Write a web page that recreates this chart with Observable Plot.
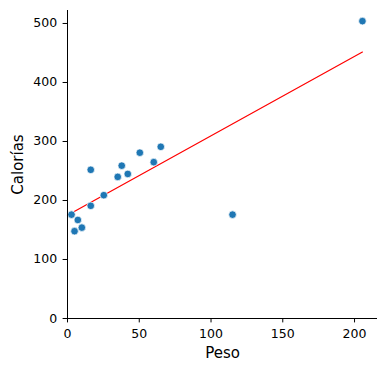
<!DOCTYPE html>
<html>
<head>
<meta charset="utf-8">
<script src="https://cdn.jsdelivr.net/npm/d3@7"></script>
<script src="https://cdn.jsdelivr.net/npm/@observablehq/plot@0.6"></script>
<style>
  html, body { margin: 0; padding: 0; background: #fff; }
  svg { display: block; }
</style>
</head>
<body>
<div id="chart"></div>
<script>
const peso =     [2.8, 4.9, 7.2, 10, 16.2, 16.2, 25.3, 35, 37.8, 42, 50.4, 60.1, 65, 115, 205.5];
const calorias = [176, 148, 167, 154, 252, 191, 209, 240, 259, 245, 281, 265, 291, 176, 504];
const xTicks = [0, 50, 100, 150, 200];
const yTicks = [0, 100, 200, 300, 400, 500];

const data = peso.map((p, i) => ({peso: p, cal: calorias[i]}));

// least-squares fit, drawn from 0 to the largest Peso
const mx = d3.mean(peso), my = d3.mean(calorias);
const slope = d3.sum(peso, (p, i) => (p - mx) * (calorias[i] - my)) / d3.sum(peso, p => (p - mx) ** 2);
const intercept = my - slope * mx;
const fit = [0, d3.max(peso)].map(x => ({peso: x, cal: intercept + slope * x}));

const chart = Plot.plot({
  width: 386,
  height: 372,
  marginLeft: 67,
  marginRight: 9,
  marginTop: 10,
  marginBottom: 54,
  style: {fontFamily: "DejaVu Sans", fontSize: "12.5px", color: "#000", background: "#fff"},
  x: {domain: [0, 216]},
  y: {domain: [0, 522]},
  marks: [
    Plot.axisX({ticks: xTicks, tickSize: 4.4, tickPadding: 6, fontSize: 12.5, label: "Peso", labelAnchor: "center", labelArrow: "none", labelOffset: 39, stroke: "#000", strokeOpacity: 1}),
    Plot.axisY({ticks: yTicks, tickSize: 4.4, tickPadding: 6, fontSize: 12.5, label: "Calorías", labelAnchor: "center", labelArrow: "none", labelOffset: 55.5, stroke: "#000", strokeOpacity: 1}),
    Plot.line(fit, {x: "peso", y: "cal", stroke: "red", strokeWidth: 1.2}),
    Plot.dot(data, {x: "peso", y: "cal", r: 3.8, fill: "#1f77b4", stroke: "#fff", strokeWidth: 0.7}),
    Plot.ruleX([0], {y1: 0, y2: 522, stroke: "#000", strokeWidth: 1}),
    Plot.ruleY([0], {x1: 0, x2: 216, stroke: "#000", strokeWidth: 1})
  ]
});
chart.querySelectorAll('[aria-label="x-axis label"] text, [aria-label="y-axis label"] text').forEach(t => t.style.fontSize = "15px");
document.getElementById("chart").appendChild(chart);
</script>
</body>
</html>
